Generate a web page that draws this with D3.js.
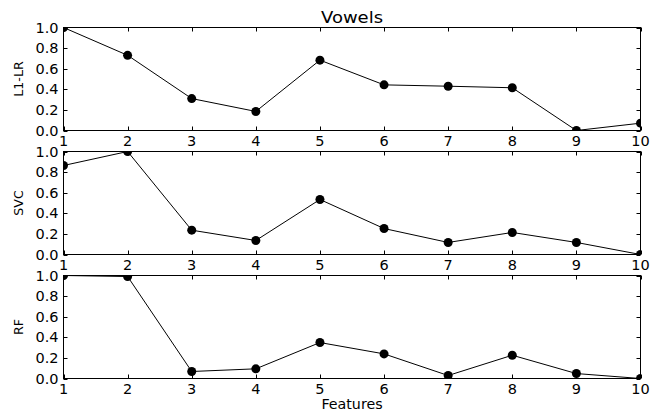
<!DOCTYPE html>
<html>
<head>
<meta charset="utf-8">
<script src="https://cdn.jsdelivr.net/npm/d3@7"></script>
<style>
  html, body { margin: 0; padding: 0; background: #fff; }
  svg { display: block; }
  text { font-family: "DejaVu Sans", sans-serif; fill: #000; }
</style>
</head>
<body>
<svg id="chart" width="650" height="412"></svg>
<script>
// Feature ranks 1..10 and the normalised importance per model
const features = [1, 2, 3, 4, 5, 6, 7, 8, 9, 10];
const l1lr = [1.0, 0.73, 0.31, 0.185, 0.683, 0.443, 0.43, 0.415, 0.0, 0.071];
const svc  = [0.864, 1.0, 0.236, 0.136, 0.534, 0.252, 0.117, 0.214, 0.117, 0.0];
const rf   = [1.0, 0.99, 0.068, 0.094, 0.349, 0.239, 0.029, 0.226, 0.048, 0.0];
const modelNames = ["L1-LR", "SVC", "RF"];
const yTicks = [0.0, 0.2, 0.4, 0.6, 0.8, 1.0];
const xTicks = [1, 2, 3, 4, 5, 6, 7, 8, 9, 10];
const titleText = "Vowels";
const xLabelText = "Features";

const series = [l1lr, svc, rf];

const svg = d3.select("#chart");
const left = 63.5, right = 640.5;
const panelTops = [27.5, 151.5, 275.5];
const panelH = 103;
const tickLen = 4;
const fs = 13.7, sx = 1.06;

const x = d3.scaleLinear().domain([1, 10]).range([left, right]);

// horizontally widened text helper
function label(g, px, py, str, anchor, size, stretch) {
  return g.append("text")
    .attr("transform", `translate(${px},${py}) scale(${stretch},1)`)
    .attr("text-anchor", anchor)
    .style("font-size", size + "px")
    .text(str);
}

series.forEach((vals, i) => {
  const top = panelTops[i];
  const bottom = top + panelH;
  const y = d3.scaleLinear().domain([0, 1]).range([bottom, top]);
  const g = svg.append("g");

  const clipId = "clip" + i;
  svg.append("clipPath").attr("id", clipId)
    .append("rect").attr("x", left).attr("y", top)
    .attr("width", right - left).attr("height", panelH);

  // data line + markers
  const pts = features.map((f, k) => [f, vals[k]]);
  const plot = g.append("g").attr("clip-path", `url(#${clipId})`);
  plot.append("path")
    .datum(pts)
    .attr("fill", "none")
    .attr("stroke", "#000")
    .attr("stroke-width", 1)
    .attr("d", d3.line().x(d => x(d[0])).y(d => y(d[1])));
  plot.selectAll("circle").data(pts).join("circle")
    .attr("cx", d => x(d[0])).attr("cy", d => y(d[1]))
    .attr("r", 4.5).attr("fill", "#000");

  // frame
  g.append("rect")
    .attr("x", left).attr("y", top)
    .attr("width", right - left).attr("height", panelH)
    .attr("fill", "none").attr("stroke", "#000").attr("stroke-width", 1);

  // inward ticks on all four sides
  const ticks = g.append("g").attr("stroke", "#000").attr("stroke-width", 1);
  xTicks.forEach(t => {
    const px = Math.round(x(t)) + 0.5;
    ticks.append("line").attr("x1", px).attr("x2", px).attr("y1", bottom).attr("y2", bottom - tickLen);
    ticks.append("line").attr("x1", px).attr("x2", px).attr("y1", top).attr("y2", top + tickLen);
  });
  yTicks.forEach(t => {
    const py = Math.round(y(t)) + 0.5;
    ticks.append("line").attr("x1", left).attr("x2", left + tickLen).attr("y1", py).attr("y2", py);
    ticks.append("line").attr("x1", right).attr("x2", right - tickLen).attr("y1", py).attr("y2", py);
  });

  // tick labels
  xTicks.forEach(t => label(g, x(t), bottom + 15, String(t), "middle", fs, sx));
  yTicks.forEach(t => label(g, left - 5, y(t) + 5, d3.format(".1f")(t), "end", fs, sx));

  // y axis title
  g.append("text")
    .attr("transform", `translate(${23},${(top + bottom) / 2}) rotate(-90)`)
    .attr("text-anchor", "middle")
    .style("font-size", "12.6px")
    .text(modelNames[i]);
});

label(svg, (left + right) / 2, 23, titleText, "middle", 15, 1.2);
label(svg, (left + right) / 2, 408.5, xLabelText, "middle", 13.2, 1.08);
</script>
</body>
</html>
